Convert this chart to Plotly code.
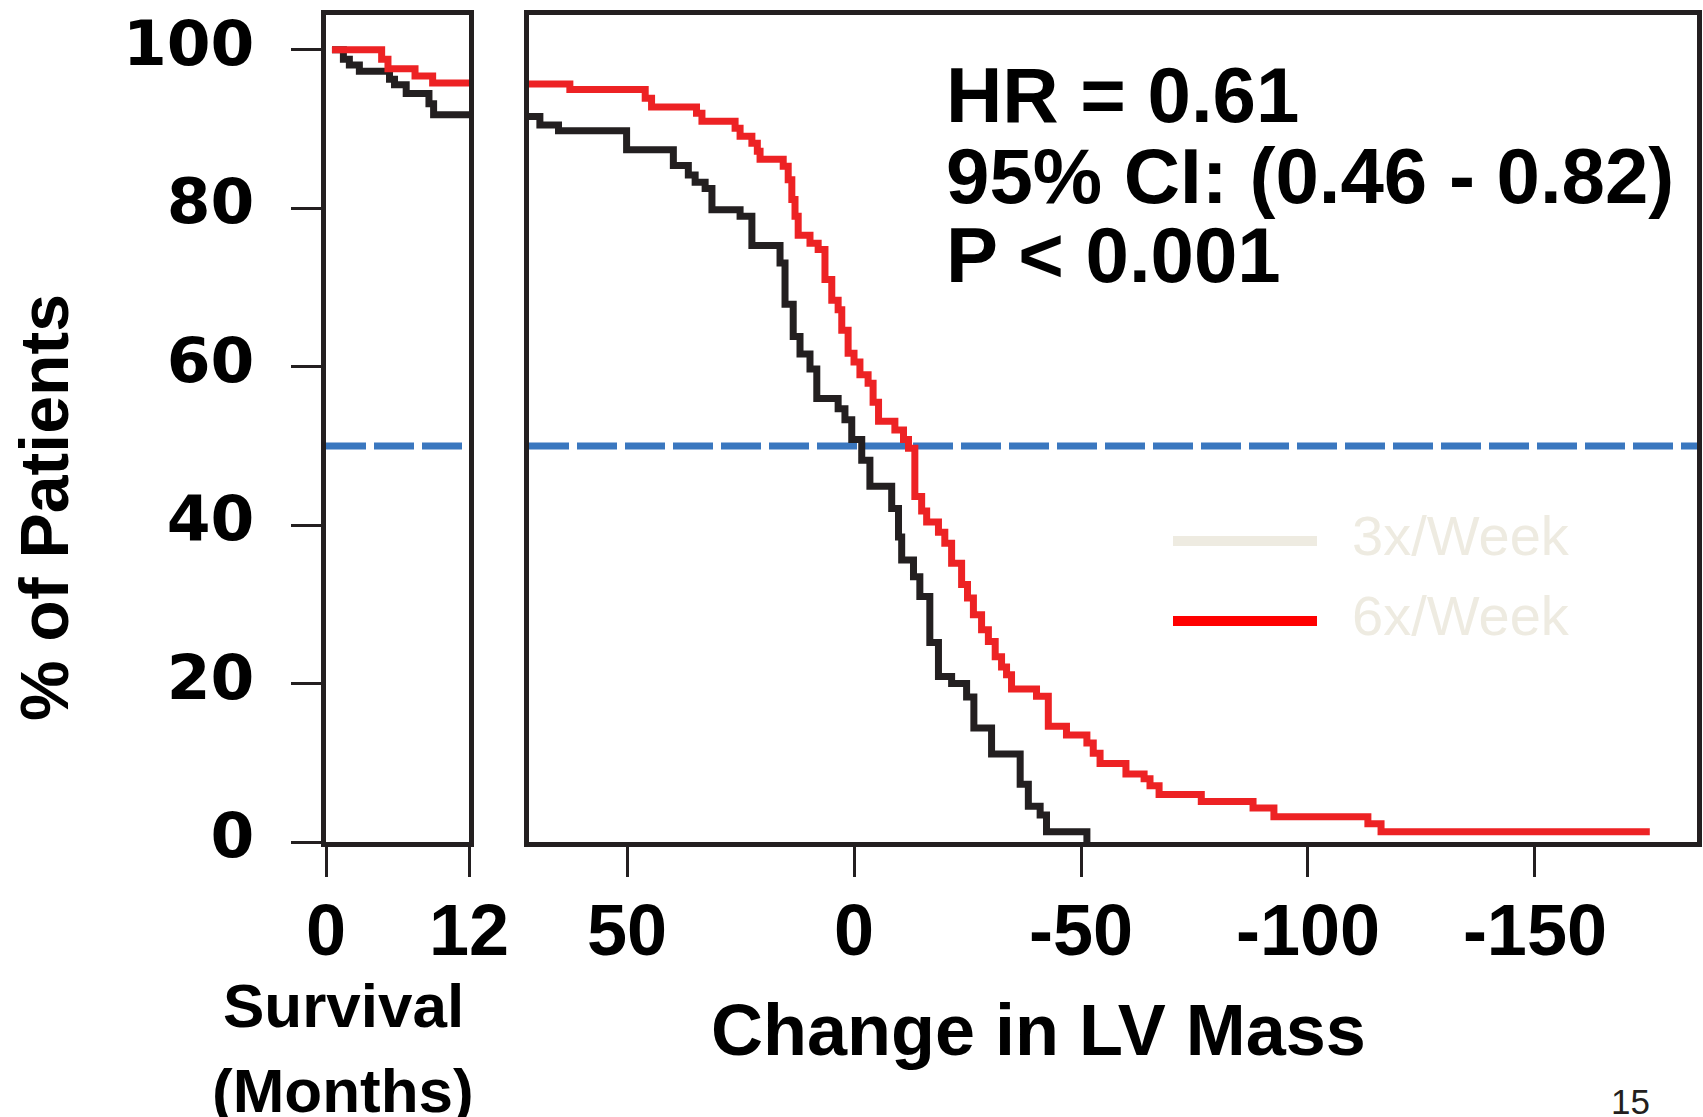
import plotly.graph_objects as go

# ---------------- data ----------------
# Survival panel (months vs % of patients)
surv_t_3x = [0.5, 1.46, 1.96, 2.80, 5.33, 5.75, 6.73, 8.64, 9.03, 12]
surv_p_3x = [100, 98.8, 98.1, 97.3, 96.3, 95.6, 94.5, 93.2, 91.8, 91.8]
surv_t_6x = [0.5, 4.67, 5.2, 7.47, 8.95, 12]
surv_p_6x = [100, 98.8, 97.6, 96.7, 95.8, 95.8]

# Change in LV mass panel
lv_x_3x = [71.6, 69.2, 65.1, 50.1, 39.8, 36.5, 35.0, 32.8, 31.3, 25.1, 22.5, 16.3, 15.2, 13.4,
           11.9, 9.7, 8.2, 3.5, 2.0, 0.5, -1.7, -3.5, -8.3, -9.8, -10.5, -13.1, -14.5, -16.7,
           -18.6, -21.5, -24.8, -26.4, -30.3, -36.6, -38.4, -41.0, -42.4, -51.3]
lv_p_3x = [91.6, 90.5, 89.8, 87.4, 85.4, 84.2, 83.3, 82.5, 79.8, 79.0, 75.3, 73.1, 67.9, 63.8,
           61.6, 59.7, 56.0, 54.7, 53.3, 50.8, 48.2, 44.9, 42.1, 38.5, 35.6, 33.5, 31.0, 25.2,
           20.9, 20.0, 18.3, 14.4, 11.1, 7.3, 4.5, 3.4, 1.3, 0]
lv_x_6x = [71.6, 62.6, 46.0, 44.6, 34.7, 33.5, 26.2, 25.1, 22.5, 21.3, 20.7, 15.6, 14.5, 13.7,
           13.0, 12.3, 9.7, 7.9, 6.4, 4.9, 3.5, 2.7, 1.3, 0.0, -1.3, -3.1, -4.2, -5.4, -9.0,
           -10.9, -12.0, -13.4, -14.9, -16.0, -18.6, -20.0, -21.5, -23.7, -25.0, -26.3, -28.1,
           -29.6, -31.1, -32.5, -33.6, -34.7, -40.2, -42.8, -46.8, -51.3, -52.7, -54.2, -59.9,
           -63.9, -65.2, -67.2, -76.5, -87.9, -92.5, -113.2, -116.1, -175.3]
lv_p_6x = [95.7, 95.0, 93.9, 92.8, 92.0, 91.0, 90.1, 89.1, 88.2, 87.2, 86.2, 85.3, 83.6, 81.1,
           79.0, 76.6, 75.6, 74.8, 71.0, 68.4, 67.2, 64.6, 61.7, 60.6, 59.0, 57.9, 55.5, 53.1,
           52.0, 50.8, 49.7, 43.6, 41.8, 40.4, 39.1, 37.7, 35.2, 32.5, 30.8, 28.7, 26.8, 25.3,
           23.4, 22.1, 21.1, 19.3, 18.4, 14.6, 13.5, 12.5, 11.2, 9.9, 8.6, 8.0, 7.1, 6.0, 5.1,
           4.3, 3.2, 2.3, 1.3, 1.3]

surv_ticks = [0, 12]
lv_ticks = [50, 0, -50, -100, -150]
y_ticks = [0, 20, 40, 60, 80, 100]
median_line = 50

series_names = ["3x/Week", "6x/Week"]
stats_lines = ["HR = 0.61", "95% CI: (0.46 - 0.82)", "P < 0.001"]

# ---------------- style ----------------
W, H = 1703, 1117
BLACK = "#231F20"
RED = "#ED2224"
BLUE = "#3A77BF"
BEIGE = "#EEEBE1"
LW = 7


def px(x):
    return x / W


def py(y):
    return 1 - y / H


fig = go.Figure()

fig.add_trace(go.Scatter(x=surv_t_3x, y=surv_p_3x, mode="lines", line=dict(color=BLACK, width=LW, shape="hv"),
                         xaxis="x", yaxis="y", showlegend=False))
fig.add_trace(go.Scatter(x=surv_t_6x, y=surv_p_6x, mode="lines", line=dict(color=RED, width=LW, shape="hv"),
                         xaxis="x", yaxis="y", showlegend=False))
fig.add_trace(go.Scatter(x=lv_x_3x, y=lv_p_3x, mode="lines", line=dict(color=BLACK, width=LW, shape="hv"),
                         xaxis="x2", yaxis="y2", showlegend=False))
fig.add_trace(go.Scatter(x=lv_x_6x, y=lv_p_6x, mode="lines", line=dict(color=RED, width=LW, shape="hv"),
                         xaxis="x2", yaxis="y2", showlegend=False))

# median dashed lines
for xr, yr in (("x domain", "y"), ("x2 domain", "y2")):
    fig.add_shape(type="line", xref=xr, yref=yr, x0=0, x1=1, y0=median_line, y1=median_line,
                  line=dict(color=BLUE, width=7, dash="40px,8px"), layer="below")

ydom = [py(842), py(15)]
common_axis = dict(showgrid=False, zeroline=False, showline=True, linewidth=5, linecolor=BLACK,
                   mirror=True, ticks="outside", ticklen=30, tickwidth=3, tickcolor=BLACK,
                   automargin=False)
xtickfont = dict(family="Liberation Sans", size=72, color="black", weight="bold")

fig.update_layout(
    template="none",
    width=W, height=H, autosize=False,
    margin=dict(l=0, r=0, t=0, b=0, pad=0),
    paper_bgcolor="white", plot_bgcolor="white",
    showlegend=False,
    xaxis=dict(domain=[px(326), px(469)], range=[0, 12], tickvals=surv_ticks, anchor="y",
               tickfont=xtickfont, ticklabelstandoff=-8, **common_axis),
    xaxis2=dict(domain=[px(529), px(1697)], range=[71.6, -185.7], tickvals=lv_ticks, anchor="y2",
                tickfont=xtickfont, ticklabelstandoff=-8,
                ticktext=[str(v) for v in lv_ticks], **common_axis),
    yaxis=dict(domain=ydom, range=[0, 104.4], tickvals=y_ticks, anchor="x",
               tickfont=dict(family="DejaVu Sans", size=63, color="black", weight="bold"),
               ticklabelstandoff=24, ticklabelshift=-7, **common_axis),
    yaxis2=dict(domain=ydom, range=[0, 104.4], anchor="x2", matches="y", showticklabels=False,
                showgrid=False, zeroline=False, showline=True, linewidth=5, linecolor=BLACK,
                mirror=True, ticks="", automargin=False),
)

TF = "Liberation Sans"
ann = []
# y title
ann.append(dict(text="% of Patients", x=px(44), y=py(508), xref="paper", yref="paper", textangle=-90,
                showarrow=False, xanchor="center", yanchor="middle",
                font=dict(family=TF, size=68, color="black", weight="bold")))
# x titles
ann.append(dict(text="Change in LV Mass", x=px(1038), y=py(1030), xref="paper", yref="paper",
                showarrow=False, xanchor="center", yanchor="middle",
                font=dict(family=TF, size=72, color="black", weight="bold")))
ann.append(dict(text="Survival", x=px(343), y=py(1005), xref="paper", yref="paper",
                showarrow=False, xanchor="center", yanchor="middle",
                font=dict(family=TF, size=62, color="black", weight="bold")))
ann.append(dict(text="(Months)", x=px(343), y=py(1090), xref="paper", yref="paper",
                showarrow=False, xanchor="center", yanchor="middle",
                font=dict(family=TF, size=62, color="black", weight="bold")))
# stats text
for i, (line, yc) in enumerate(zip(stats_lines, [95, 176, 255])):
    ann.append(dict(text=line, x=px(944), y=py(yc), xref="paper", yref="paper", showarrow=False,
                    xanchor="left", yanchor="middle",
                    font=dict(family=TF, size=78, color="black", weight="bold")))
# legend
for name, col, yc in zip(series_names, [BEIGE, "#FF0000"], [541, 621]):
    fig.add_shape(type="line", xref="paper", yref="paper", x0=px(1173), x1=px(1317), y0=py(yc), y1=py(yc),
                  line=dict(color=col, width=10))
    ann.append(dict(text=name, x=px(1350), y=py(yc - 6), xref="paper", yref="paper", showarrow=False,
                    xanchor="left", yanchor="middle",
                    font=dict(family=TF, size=56, color=BEIGE)))
# page number
ann.append(dict(text="15", x=px(1630), y=py(1101), xref="paper", yref="paper", showarrow=False,
                xanchor="center", yanchor="middle", font=dict(family=TF, size=35, color=BLACK)))

fig.update_layout(annotations=ann)
fig.write_html("out.html")
